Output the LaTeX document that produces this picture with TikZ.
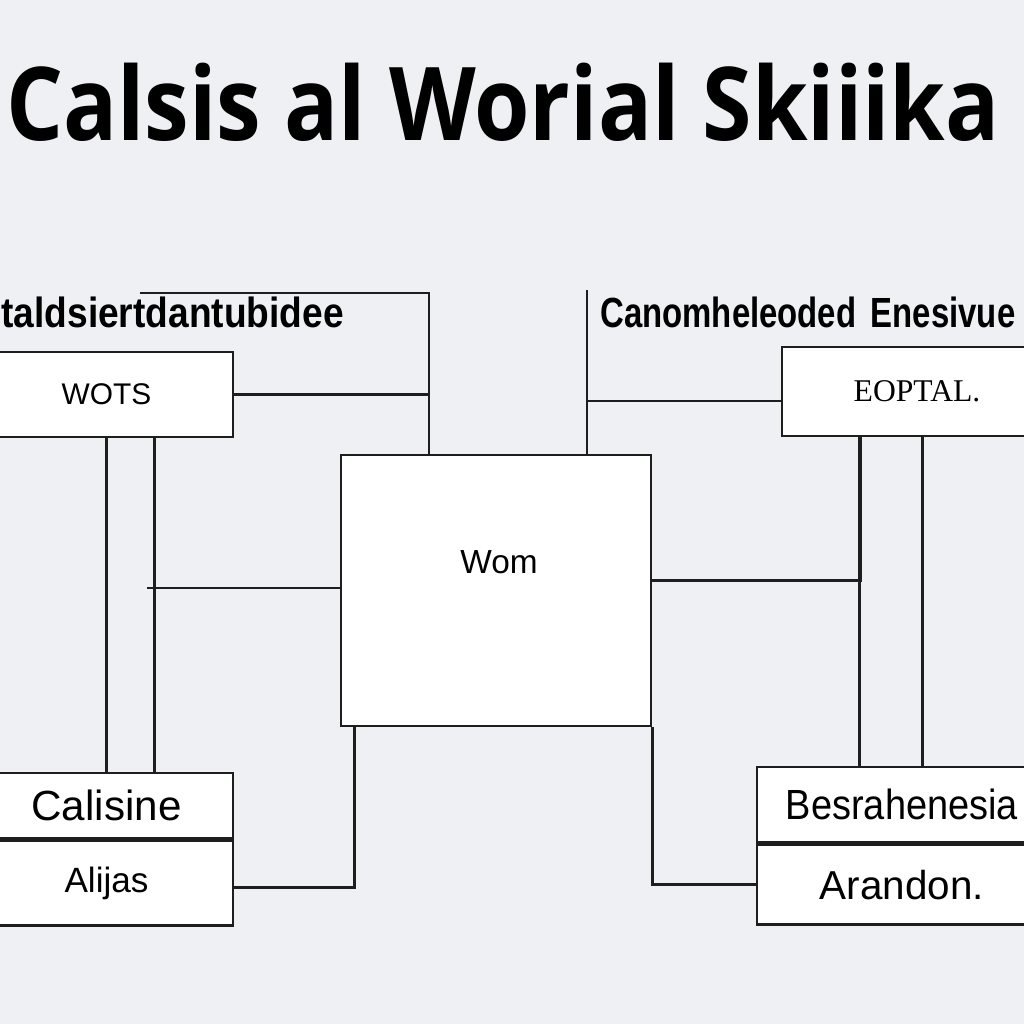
\documentclass[tikz,border=0pt]{standalone}
\usepackage{fontspec}
\usepackage{graphicx}
\setmainfont{Liberation Sans}
\newfontfamily\titlefont{Open Sans}
\newfontfamily\serfont{Liberation Serif}
\definecolor{bgpaper}{HTML}{EEF0F3}
\definecolor{inkline}{HTML}{1E1E1E}
\begin{document}
\begin{tikzpicture}[x=0.1mm, y=-0.1mm]
        \tikzstyle{block} = [rectangle, draw=inkline, fill=white, line width=0.8pt, inner sep=0pt]
        \tikzstyle{wire} = [draw=inkline, line width=0.8pt]

        \useasboundingbox (0,0) rectangle (1024,1024);
        \clip (0,0) rectangle (1024,1024);
        \fill[bgpaper] (0,0) rectangle (1024,1024);

        % titulo e rotulos
        \node[font=\titlefont\bfseries\fontsize{29}{31}\selectfont, text=black] (title) at (503,102)
            {\scalebox{0.88}[1]{Calsis al Worial Skiiika}};
        \node[anchor=west, font=\fontsize{12}{13}\selectfont\bfseries] (lbleft) at (-11,312)
            {\scalebox{0.88}[1]{taldsiertdantubidee}};
        \node[anchor=west, font=\fontsize{12}{13}\selectfont\bfseries] (lbright) at (588,312)
            {\scalebox{0.78}[1]{Canomheleoded\, Enesivue}};

        % caixas
        \node[block, minimum width=25.3mm, minimum height=8.5mm, font=\fontsize{8.5}{10}\selectfont] (wots) at (106.5,394.5) {WOTS};
        \node[block, minimum width=27mm, minimum height=8.9mm, font=\serfont\fontsize{9}{10}\selectfont] (eop) at (917,391.5) {EOPTAL.};
        \node[block, minimum width=31mm, minimum height=27.1mm] (worm) at (496,590.5) {};
        \node[font=\fontsize{9.5}{10}\selectfont] (wormtxt) at ([xshift=0.3mm, yshift=2.8mm]worm.center) {Wom};
        \node[block, minimum width=25.3mm, minimum height=6.5mm, font=\fontsize{12}{13}\selectfont] (cal) at (106.5,805.5) {Calisine};
        \node[block, minimum width=25.3mm, minimum height=8.5mm, font=\fontsize{10}{11}\selectfont, anchor=north] (alij) at (cal.south) {Alijas};
        \node[block, minimum width=29mm, minimum height=7.5mm, font=\fontsize{12}{13}\selectfont] (bra) at (902,804.5) {\scalebox{0.9}[1]{Besrahenesia}};
        \node[block, minimum width=29mm, minimum height=8mm, font=\fontsize{11.5}{12}\selectfont, anchor=north] (aran) at (bra.south) {Arandon.};

        % ligacoes
        \coordinate (tl) at (140,293);
        \coordinate (ja) at (429,293);
        \coordinate (tr) at (587,290);
        \coordinate (lm) at (147,588);

        \draw[wire] (tl) -- (ja) -- (ja |- worm.north);
        \draw[wire] (wots.east) -- (wots.east -| ja);
        \draw[wire] (tr) -- (tr |- worm.north);
        \draw[wire] ([yshift=-0.95mm]eop.west) -- ([yshift=-0.95mm]eop.west -| tr);

        \foreach \dx in {12.8,17.6} {
            \draw[wire] ([xshift=\dx mm]wots.south west) -- ([xshift=\dx mm]wots.south west |- cal.north);
        }
        \draw[wire] (lm) -- (lm -| worm.west);
        \draw[wire] ([xshift=1.5mm]worm.south west) |- ([yshift=-0.45mm]alij.east);

        \draw[wire] ([yshift=1mm]worm.east) -| ([xshift=8mm]eop.south west);
        \foreach \dx in {7.9,14.2} {
            \draw[wire] ([xshift=\dx mm]eop.south west) -- ([xshift=\dx mm]eop.south west |- bra.north);
        }
        \draw[wire] (worm.south east) |- (aran.west);
\end{tikzpicture}
\end{document}
